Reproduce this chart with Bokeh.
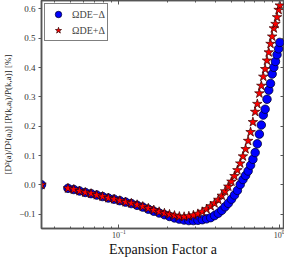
from bokeh.plotting import figure
from bokeh.models import (FixedTicker, LogAxis, LinearAxis, Range1d, Legend, LegendItem,
                          CustomJSTickFormatter, LogTickFormatter)
from bokeh.embed import file_html
from bokeh.resources import INLINE

# Expansion factor grid
a_vals = [0.033, 0.0482, 0.0524, 0.0569, 0.0618, 0.0671, 0.0728, 0.0791, 0.0859, 0.0933,
          0.1013, 0.1100, 0.1194, 0.1297, 0.1406, 0.1523, 0.1647, 0.1778, 0.1918, 0.2062,
          0.2215, 0.2375, 0.2543, 0.2720, 0.2904, 0.3097, 0.3297, 0.3506, 0.3718, 0.3931,
          0.4145, 0.4359, 0.4571, 0.4787, 0.5006, 0.5228, 0.5452, 0.5677, 0.5903, 0.6130,
          0.6357, 0.6583, 0.6807, 0.7030, 0.7250, 0.7466, 0.7678, 0.7895, 0.8111, 0.8328,
          0.8540, 0.8757, 0.8968, 0.9184, 0.9404, 0.9616, 0.9834, 1.0]

# Omega_DE - Delta (blue circles)
minus_vals = [0.0, -0.012, -0.016, -0.021, -0.026, -0.030, -0.035, -0.040, -0.045, -0.049,
              -0.054, -0.059, -0.064, -0.070, -0.076, -0.083, -0.090, -0.096, -0.102, -0.108,
              -0.113, -0.117, -0.120, -0.122, -0.122, -0.121, -0.119, -0.116, -0.112, -0.105,
              -0.097, -0.087, -0.075, -0.063, -0.049, -0.035, -0.019, 0.001, 0.018, 0.032,
              0.047, 0.067, 0.087, 0.110, 0.140, 0.173, 0.204, 0.238, 0.258, 0.292,
              0.323, 0.346, 0.378, 0.401, 0.421, 0.444, 0.464, 0.486]

# Omega_DE + Delta (red stars)
plus_vals = [0.0, -0.012, -0.016, -0.021, -0.026, -0.030, -0.035, -0.040, -0.045, -0.049,
             -0.054, -0.059, -0.063, -0.068, -0.074, -0.080, -0.086, -0.092, -0.097, -0.101,
             -0.105, -0.108, -0.109, -0.107, -0.104, -0.099, -0.092, -0.083, -0.073, -0.063,
             -0.051, -0.037, -0.022, -0.006, 0.011, 0.030, 0.050, 0.073, 0.097, 0.122,
             0.150, 0.180, 0.214, 0.249, 0.276, 0.312, 0.338, 0.369, 0.395, 0.424,
             0.452, 0.481, 0.506, 0.534, 0.549, 0.572, 0.597, 0.612]

x_major = [0.1, 1.0]
x_minor = [0.04, 0.05, 0.06, 0.07, 0.08, 0.09, 0.2, 0.3, 0.4, 0.5, 0.6, 0.7, 0.8, 0.9]
y_ticks = [-0.1, 0.0, 0.1, 0.2, 0.3, 0.4, 0.5, 0.6]

SERIF = "Liberation Serif"
SPINE = "#555555"

p = figure(width=284, height=259, x_axis_type="log",
           x_range=Range1d(0.033, 1.07), y_range=Range1d(-0.149, 0.629),
           output_backend="svg", toolbar_location=None,
           min_border_left=37, min_border_right=0, min_border_top=0, min_border_bottom=0)
p.xgrid.visible = False
p.ygrid.visible = False
p.outline_line_color = SPINE
p.outline_line_width = 1.5
p.background_fill_color = "white"
p.border_fill_color = "white"

xa = p.xaxis[0]
xa.ticker = FixedTicker(ticks=x_major, minor_ticks=x_minor)
xa.formatter = LogTickFormatter()
xa.major_tick_in = 4
xa.major_tick_out = 0
xa.minor_tick_in = 2
xa.minor_tick_out = 0
xa.axis_line_color = SPINE
xa.axis_line_width = 1.5
xa.major_tick_line_color = SPINE
xa.minor_tick_line_color = SPINE
xa.major_label_text_font = SERIF
xa.major_label_text_font_size = "8px"
xa.major_label_text_color = "#333333"
xa.major_label_standoff = 1
xa.axis_label = "Expansion Factor a"
xa.axis_label_text_font = SERIF
xa.axis_label_text_font_size = "14px"
xa.axis_label_text_font_style = "normal"
xa.axis_label_text_color = "#111111"
xa.axis_label_standoff = 1

ya = p.yaxis[0]
ya.ticker = FixedTicker(ticks=y_ticks)
ya.formatter = CustomJSTickFormatter(code="""
    if (Math.abs(tick) < 1e-9) { return "0.0"; }
    return tick.toFixed(1).replace("-", "\\u2212");
""")
ya.major_tick_in = 0
ya.major_tick_out = 3
ya.minor_tick_in = 0
ya.minor_tick_out = 0
ya.axis_line_color = SPINE
ya.axis_line_width = 1.5
ya.major_tick_line_color = SPINE
ya.major_label_text_font = SERIF
ya.major_label_text_font_size = "9px"
ya.major_label_text_color = "#333333"
ya.major_label_standoff = 3
ya.axis_label = "[D\u00b2(a)/D\u00b2(a\u1d62)] [P(k,a\u1d62)/P(k,a)] [%]"
ya.axis_label_text_font = SERIF
ya.axis_label_text_font_size = "9px"
ya.axis_label_text_font_style = "normal"
ya.axis_label_text_color = "#222222"
ya.axis_label_standoff = 3

top = LogAxis(ticker=FixedTicker(ticks=x_major, minor_ticks=x_minor),
              formatter=CustomJSTickFormatter(code="return '';"),
              major_tick_in=4, major_tick_out=0, minor_tick_in=2, minor_tick_out=0,
              major_label_text_font_size="1px", major_label_text_alpha=0,
              major_label_standoff=0,
              axis_line_color=SPINE, axis_line_width=1.5,
              major_tick_line_color=SPINE, minor_tick_line_color=SPINE)
p.add_layout(top, "above")

right = LinearAxis(ticker=FixedTicker(ticks=y_ticks),
                   formatter=CustomJSTickFormatter(code="return '';"),
                   major_tick_in=4, major_tick_out=0, minor_tick_in=0, minor_tick_out=0,
                   major_label_text_font_size="1px", major_label_text_alpha=0,
                   major_label_standoff=0,
                   axis_line_color=SPINE, axis_line_width=1.5,
                   major_tick_line_color=SPINE)
p.add_layout(right, "right")

rb = p.scatter(a_vals, minus_vals, marker="circle", size=8.5,
               fill_color="#0000ff", line_color="#000033", line_width=0.8)
rs = p.scatter(a_vals, plus_vals, marker="star", size=10,
               fill_color="#ff0000", line_color="#330000", line_width=0.7)

legend = Legend(items=[LegendItem(label="\u03a9DE\u2212\u0394", renderers=[rb]),
                       LegendItem(label="\u03a9DE+\u0394", renderers=[rs])],
                location="top_left", margin=3, padding=2, spacing=0,
                border_line_color="black", border_line_width=1,
                background_fill_color="white", background_fill_alpha=1.0,
                glyph_width=22, glyph_height=16, label_height=12,
                label_standoff=3, label_text_font=SERIF, label_text_font_size="10px")
p.add_layout(legend)

open("out.html", "w").write(file_html(p, INLINE))
